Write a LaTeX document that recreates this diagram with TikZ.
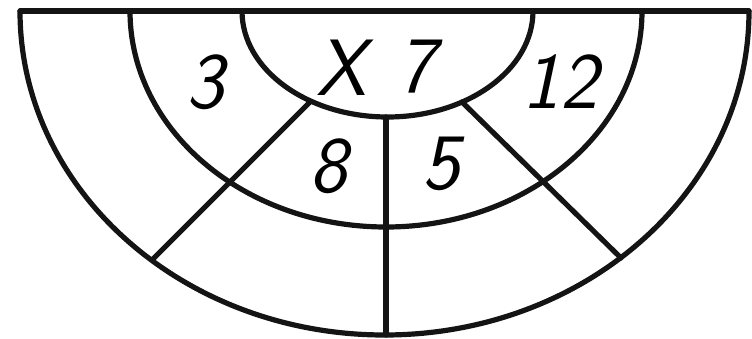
\documentclass[tikz,border=0pt]{standalone}
\usepackage{fontspec}

\begin{document}
\begin{tikzpicture}[x=1pt,y=-1pt,line width=5.2pt,line cap=round,line join=round,
  rim/.style={draw=black!92},
  spoke/.style={draw=black!92},
  num/.style={font=\fontsize{80}{80}\selectfont\sffamily\slshape,inner sep=0pt}]
\useasboundingbox (0,0) rectangle (752,339);
% top edge and the three half rings
\coordinate (top_l) at (20,11);
\coordinate (top_r) at (749,11);
\coordinate (mid_l) at (130,11);
\coordinate (inn_l) at (242,11);
\draw[rim] (top_l) -- (top_r);
\draw[rim] (top_l) arc[start angle=180,end angle=0,x radius=364.5,y radius=324];
\draw[rim] (mid_l) arc[start angle=180,end angle=0,x radius=256,y radius=216];
\draw[rim] (inn_l) arc[start angle=180,end angle=0,x radius=145.5,y radius=106];
% spokes
\coordinate (in_l) at (310,102);
\coordinate (out_l) at (152,260);
\coordinate (in_m) at (386,117);
\coordinate (out_m) at (386,335);
\coordinate (in_r) at (462,102);
\coordinate (out_r) at (621,258);
\draw[spoke] (in_l) -- (out_l);
\draw[spoke] (in_m) -- (out_m);
\draw[spoke] (in_r) -- (out_r);
% numbers
\node[num] (lbl_3) at (205,82) {3};
\node[num] (lbl_x) at (341,68) {X};
\node[num] (lbl_7) at (416,67) {7};
\node[num] (lbl_12) at (560,82) {12};
\node[num] (lbl_8) at (328,166) {8};
\node[num] (lbl_5) at (441,164) {5};
\end{tikzpicture}
\end{document}
